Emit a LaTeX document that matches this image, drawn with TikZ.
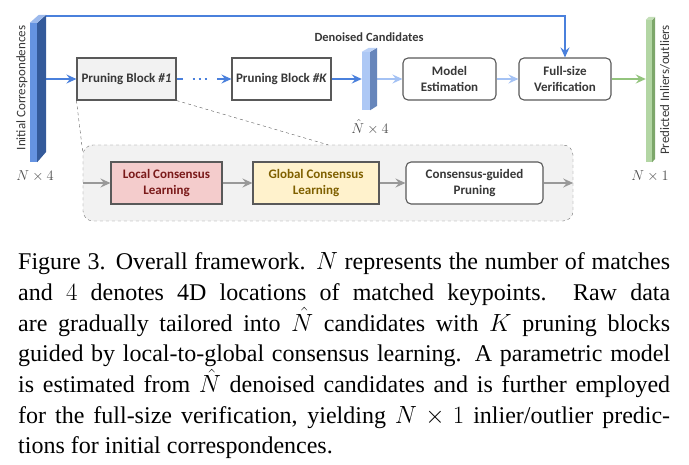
\documentclass[tikz,border=0pt]{standalone}
\usepackage{amsmath}
\usepackage{fontspec}
\setmainfont{Liberation Serif}
\newfontfamily\carlito{Carlito}
\usetikzlibrary{arrows.meta,positioning,calc}

\definecolor{flowblue}{HTML}{4A80DC}
\definecolor{flowlight}{HTML}{A4C2F4}
\definecolor{flowgreen}{HTML}{93C47D}
\definecolor{boxline}{HTML}{595959}
\definecolor{panel}{HTML}{F2F2F2}
\definecolor{localfill}{HTML}{F4CCCC}
\definecolor{localtext}{HTML}{7A1A1A}
\definecolor{globalfill}{HTML}{FFF2CC}
\definecolor{globaltext}{HTML}{7F6000}

\begin{document}
\begin{tikzpicture}[x=1pt, y=-1pt,
	every node/.style={font=\carlito\fontsize{13}{15.5}\selectfont, text=black!78},
	>={Stealth[length=10pt, width=9pt, inset=3.5pt]},
	blk/.style={draw=boxline, line width=1.1pt, minimum height=42pt, inner sep=0pt, align=center, font=\carlito\bfseries\fontsize{13}{15.5}\selectfont},
	rblk/.style={blk, rounded corners=5pt, fill=white},
	dim/.style={font=\fontsize{14}{14}\selectfont, text=black!70}]
	\useasboundingbox (0,0) rectangle (689,465);

	% feature bars (front faces)
	\node[fill=flowblue!85!white, minimum width=7pt, minimum height=139pt, inner sep=0pt] (inbar) at (33.5,92.5) {};
	\node[fill=flowlight!90!white, minimum width=8pt, minimum height=58pt, inner sep=0pt] (den) at (366,81) {};
	\node[fill=flowgreen!70!white, minimum width=6pt, minimum height=142pt, inner sep=0pt] (outbar) at (649,91) {};

	% main stream
	\node[blk, fill=panel, minimum width=99pt] (b1) at (126.5,79) {Pruning Block \textit{\#1}};
	\node[blk, fill=white, minimum width=99pt] (bK) at (281.5,79) {Pruning Block \textit{\#K}};
	\node[rblk, minimum width=93pt] (model) at (449.5,79) {Model\\Estimation};
	\node[rblk, minimum width=92pt] (ver) at (565,79) {Full-size\\Verification};

	\draw[->, flowblue, line width=2pt] (inbar.east |- b1.west) -- (b1.west);
	\draw[->, flowblue, line width=2pt, dash pattern=on 6pt off 10pt on 2.5pt off 3.5pt on 2.5pt off 3.5pt on 2.5pt off 10pt on 40pt] (b1.east) -- (bK.west);
	\draw[->, flowblue, line width=2pt] (bK.east) -- (bK.east -| den.west);
	\draw[->, flowlight, line width=2pt] (den.east |- model.west) -- (model.west);
	\draw[->, flowlight, line width=2pt] (model.east) -- (ver.west);
	\draw[->, flowgreen, line width=2pt] (ver.east) -- (ver.east -| outbar.west);
	\draw[->, flowblue, line width=2pt] ([shift={(9,-7)}]inbar.north east) -| (ver.north);

	% side and top faces
	\fill[flowblue!70!black] (inbar.north east) -- ++(9,-8) -- ++(0,137) -- (inbar.south east) -- cycle;
	\fill[flowblue!55!white] (inbar.north west) -- ++(9,-8) -- ++(7,0) -- (inbar.north east) -- cycle;
	\fill[flowlight!60!flowblue!80!black] (den.north east) -- ++(7,-4) -- ++(0,58) -- (den.south east) -- cycle;
	\fill[flowlight!75!white] (den.north west) -- ++(7,-4) -- ++(8,0) -- (den.north east) -- cycle;
	\fill[flowgreen!85!black] (outbar.north east) -- ++(3,-3) -- ++(0,142) -- (outbar.south east) -- cycle;
	\fill[flowgreen!55!white] (outbar.north west) -- ++(3,-3) -- ++(6,0) -- (outbar.north east) -- cycle;

	\node[rotate=90] at (22,88) {Initial Correspondences};
	\node[rotate=90] at (665,90) {Predicted Inliers/outliers};
	\node[font=\carlito\bfseries\fontsize{12.5}{14}\selectfont] at (369,37) {Denoised Candidates};
	\node[dim] at (35,176) {$N\times 4$};
	\node[dim] at (370,127) {$\hat{N}\times 4$};
	\node[dim] at (650,176) {$N\times 1$};

	% zoom into one pruning block
	\node[draw=black!55, dashed, fill=panel, rounded corners=10pt, minimum width=490pt, minimum height=76pt, inner sep=0pt] (zoom) at (328,183) {};
	\draw[dashed, black!65] (b1.south west) -- ($(zoom.north west)+(0,8)$);
	\draw[dashed, black!65] (b1.south east) -- (zoom.north);

	\node[blk, fill=localfill, text=localtext, minimum width=111pt] (loc) at (166.5,183) {Local Consensus\\Learning};
	\node[blk, fill=globalfill, text=globaltext, minimum width=126pt] (glob) at (316,183) {Global Consensus\\Learning};
	\node[rblk, minimum width=137pt] (cg) at (474.5,183) {Consensus-guided\\Pruning};

	\draw[->, black!40, line width=2.4pt] (zoom.west) -- (loc.west);
	\draw[->, black!40, line width=2.4pt] (loc.east) -- (glob.west);
	\draw[->, black!40, line width=2.4pt] (glob.east) -- (cg.west);
	\draw[->, black!40, line width=2.4pt] (cg.east) -- (zoom.east);

	% caption
	\node[anchor=north west, inner sep=0pt, text width=652pt, align=justify, text=black, font=\rmfamily\fontsize{24}{30.7}\selectfont] (cap) at (18,252.5) {Figure 3. Overall framework. $N$ represents the number of matches\linebreak
	and $4$ denotes 4D locations of matched keypoints.\ \ Raw data\linebreak
	are gradually tailored into $\hat{N}$ candidates with $K$ pruning blocks\linebreak
	guided by local-to-global consensus learning. A parametric model\linebreak
	is estimated from $\hat{N}$ denoised candidates and is further employed\linebreak
	for the full-size verification, yielding $N\times 1$ inlier/outlier predic-\linebreak
	tions for initial correspondences.};
\end{tikzpicture}
\end{document}
